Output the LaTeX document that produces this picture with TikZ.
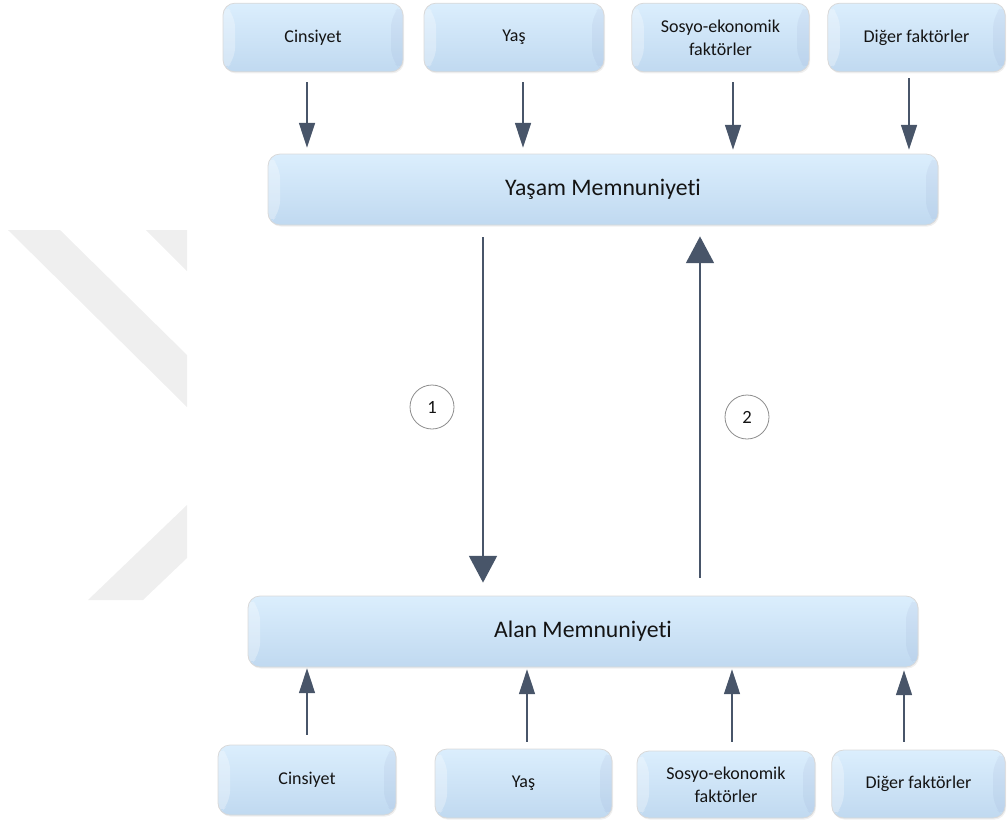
\documentclass[tikz,border=0pt]{standalone}
\usepackage{fontspec}
\setmainfont{Carlito}[Ligatures=NoCommon]
\usetikzlibrary{arrows.meta,calc,shadows}
\definecolor{boxtop}{RGB}{219,238,253}
\definecolor{boxbot}{RGB}{192,217,240}
\definecolor{arrc}{RGB}{72,85,105}
\definecolor{wm}{RGB}{239,239,239}
\definecolor{txt}{RGB}{20,20,20}
\tikzset{
  fbox/.style={draw=black!15, line width=0.6pt, rounded corners=9pt,
    top color=boxtop, bottom color=boxbot, text=txt, align=center,
    inner sep=0pt, font=\fontsize{13.5}{17}\selectfont,
    drop shadow={opacity=0.12, shadow xshift=0.8pt, shadow yshift=-1.2pt},
    path picture={
      \fill[white,opacity=0.3] (path picture bounding box.north west) -- ++(9pt,-9pt)
        -- ($(path picture bounding box.south west)+(9pt,9pt)$)
        -- (path picture bounding box.south west) -- cycle;
      \fill[black!60!blue,opacity=0.035] (path picture bounding box.north east) -- ++(-9pt,-9pt)
        -- ($(path picture bounding box.south east)+(-9pt,9pt)$)
        -- (path picture bounding box.south east) -- cycle;
    }},
  sbox/.style={fbox, minimum width=133pt, minimum height=51.5pt},
  bbox/.style={fbox, minimum width=502.5pt, minimum height=53.25pt,
    font=\fontsize{17.8}{20}\selectfont},
  arr/.style={draw=arrc, line width=1pt, -{Triangle[width=12pt,length=18.5pt]}},
  barr/.style={draw=arrc, line width=1pt, -{Triangle[width=21pt,length=20pt]}},
  num/.style={circle, draw=black!45, line width=0.6pt, minimum size=33pt,
    inner sep=0pt, font=\fontsize{14}{16}\selectfont, text=txt},
}
\begin{document}
\begin{tikzpicture}[x=0.75pt,y=-0.75pt]
\useasboundingbox (0,0) rectangle (1007,819);
% watermark
\fill[wm] (8,230) -- (60,230) -- (187,355) -- (187,407) -- cycle;
\fill[wm] (146,230) -- (187,230) -- (187,271) -- cycle;
\fill[wm] (88,600) -- (143,600) -- (187,558) -- (187,505) -- cycle;
% top row
\node[sbox, minimum width=135pt] (t1) at (313,37.5) {Cinsiyet};
\node[sbox, minimum width=135pt] (t2) at (514,37.5) {Yaş};
\node[sbox] (t3) at (720.5,37.5) {Sosyo-ekonomik\\faktörler};
\node[sbox] (t4) at (916.5,37.5) {Diğer faktörler};
% main boxes
\node[bbox] (ym) at (603,189.5) {Yaşam Memnuniyeti};
\node[bbox] (am) at (583,631.5) {Alan Memnuniyeti};
% bottom row
\node[sbox, minimum width=133.5pt, minimum height=52.5pt] (b1) at (307,780) {Cinsiyet};
\node[sbox, minimum width=132.75pt, minimum height=51.75pt] (b2) at (523.5,783.5) {Yaş};
\node[sbox, minimum width=133.5pt, minimum height=50.25pt] (b3) at (726,784.5) {Sosyo-ekonomik\\faktörler};
\node[sbox, minimum width=130pt, minimum height=51pt] (b4) at (918.5,784) {Diğer faktörler};
% circles
\node[num] (n1) at (432,407) {1};
\node[num] (n2) at (747,417) {2};
% top arrows
\draw[arr] ($(t1.south)+(-6,10)$) -- ($(t1.south |- ym.north)+(-6,-6)$);
\draw[arr] ($(t2.south)+(9,10)$) -- ($(t2.south |- ym.north)+(9,-6)$);
\draw[arr] ($(t3.south)+(12.5,10)$) -- ($(t3.south |- ym.north)+(12.5,-4)$);
\draw[arr] ($(t4.south)+(-7.5,6)$) -- ($(t4.south |- ym.north)+(-7.5,-4)$);
% main arrows
\draw[barr] ($(ym.south)+(-120,12)$) -- ($(am.north)+(-100,-13)$);
\draw[barr] ($(am.north)+(117,-18)$) -- ($(ym.south)+(97,11)$);
% bottom arrows
\draw[arr] ($(b1.north)+(0,-10)$) -- ($(b1.north |- am.south)+(0,1)$);
\draw[arr] ($(b2.north)+(3.5,-7)$) -- ($(b2.north |- am.south)+(3.5,2)$);
\draw[arr] ($(b3.north)+(6,-9)$) -- ($(b3.north |- am.south)+(6,2)$);
\draw[arr] ($(b4.north)+(-14.5,-8)$) -- ($(b4.north |- am.south)+(-14.5,3)$);
\end{tikzpicture}
\end{document}
